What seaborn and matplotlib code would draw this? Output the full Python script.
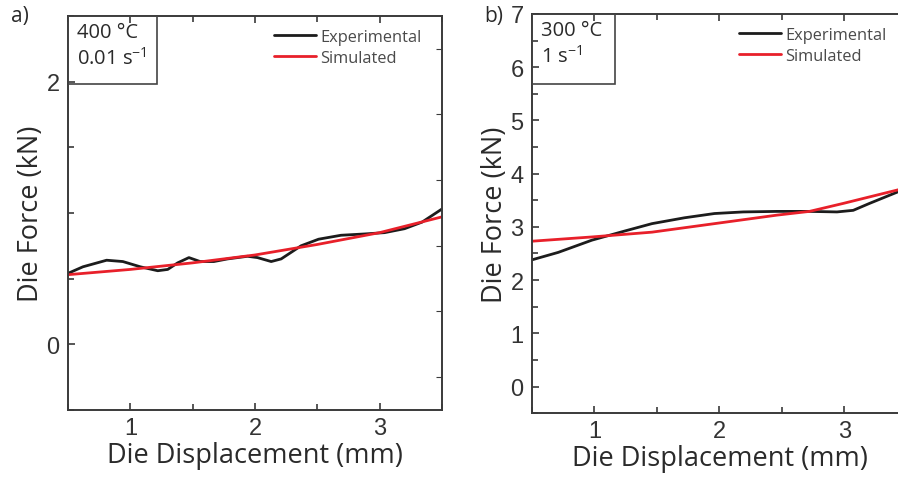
import numpy as np
import pandas as pd
import seaborn as sns
import matplotlib.pyplot as plt
from matplotlib.patches import Rectangle
from matplotlib.ticker import MultipleLocator

# panel a) 400 C, 0.01 s-1
a_exp_x = [0.50, 0.62, 0.81, 0.94, 1.08, 1.22, 1.30, 1.38, 1.47, 1.56, 1.67, 1.78, 1.94, 2.02,
           2.13, 2.21, 2.37, 2.51, 2.69, 2.88, 3.04, 3.20, 3.34, 3.50]
a_exp_y = [0.54, 0.59, 0.64, 0.63, 0.59, 0.56, 0.57, 0.62, 0.66, 0.63, 0.63, 0.65, 0.67, 0.66,
           0.63, 0.65, 0.75, 0.80, 0.83, 0.84, 0.85, 0.88, 0.93, 1.03]
a_sim_x = [0.5, 1.0, 1.5, 2.0, 2.5, 3.0, 3.5]
a_sim_y = [0.53, 0.57, 0.62, 0.68, 0.76, 0.85, 0.97]

# panel b) 300 C, 1 s-1
b_exp_x = [0.50, 0.71, 0.98, 1.24, 1.46, 1.72, 1.96, 2.19, 2.46, 2.72, 2.94, 3.07, 3.20, 3.42, 3.50]
b_exp_y = [2.38, 2.52, 2.75, 2.92, 3.06, 3.17, 3.25, 3.28, 3.29, 3.29, 3.28, 3.31, 3.44, 3.65, 3.75]
b_sim_x = [0.50, 0.98, 1.46, 1.96, 2.46, 2.72, 2.99, 3.42, 3.50]
b_sim_y = [2.73, 2.81, 2.90, 3.06, 3.22, 3.29, 3.44, 3.69, 3.74]

def long_df(ex, ey, sx, sy):
    return pd.concat([
        pd.DataFrame({'x': ex, 'y': ey, 'series': 'Experimental'}),
        pd.DataFrame({'x': sx, 'y': sy, 'series': 'Simulated'}),
    ], ignore_index=True)

df_a = long_df(a_exp_x, a_exp_y, a_sim_x, a_sim_y)
df_b = long_df(b_exp_x, b_exp_y, b_sim_x, b_sim_y)

sns.set_style("ticks")
plt.rcParams['font.family'] = ['Open Sans', 'DejaVu Sans']
plt.rcParams['mathtext.fontset'] = 'custom'
plt.rcParams['mathtext.rm'] = 'Open Sans'

pal = {'Experimental': '#1c1c1c', 'Simulated': '#e8202a'}
spine_c = '#3a3a3a'
tick_font = 'Liberation Sans'

fig = plt.figure(figsize=(8.98, 4.81), dpi=100)
ax_a = fig.add_axes([0.0757, 0.1455, 0.4165, 0.8195])
ax_b = fig.add_axes([0.5924, 0.139, 0.4176, 0.830])


def style_axes(ax, ylim):
    ax.set_xlim(0.5, 3.5)
    ax.set_ylim(*ylim)
    for s in ax.spines.values():
        s.set_color(spine_c)
        s.set_linewidth(1.4)
    ax.xaxis.set_major_locator(MultipleLocator(1))
    ax.xaxis.set_minor_locator(MultipleLocator(0.5))
    ax.tick_params(axis='both', which='both', direction='out', color=spine_c, width=1.2)
    ax.tick_params(axis='both', which='major', length=5, labelsize=17, labelcolor='#333333', pad=6)
    ax.tick_params(axis='x', which='major', pad=5)
    ax.tick_params(axis='both', which='minor', length=4)
    ax.tick_params(top=True, which='both', direction='in')
    ax.set_xlabel('Die Displacement (mm)', fontsize=19.5, color='#2a2a2a', labelpad=1.5)
    ax.set_ylabel('Die Force (kN)', fontsize=19.5, color='#2a2a2a', labelpad=1)


for ax, df in [(ax_a, df_a), (ax_b, df_b)]:
    sns.lineplot(data=df, x='x', y='y', hue='series', palette=pal, ax=ax,
                 linewidth=2.0, sort=False, estimator=None)

style_axes(ax_a, (-0.5, 2.5))
ax_a.set_yticks([0, 2])
ax_a.yaxis.set_minor_locator(MultipleLocator(0.5))
ax_a.set_xticks([1, 2, 3])
tw = ax_a.twinx()
tw.set_ylim(-0.5, 2.5)
tw.set_yticks(np.arange(-0.25, 2.3, 0.5))
tw.tick_params(axis='y', direction='in', length=4, color=spine_c, labelright=False)
for s in tw.spines.values():
    s.set_visible(False)

style_axes(ax_b, (-0.5, 7))
ax_b.set_yticks(range(0, 8))
ax_b.yaxis.set_minor_locator(MultipleLocator(0.5))
ax_b.set_xticks([1, 2, 3])

for ax in (ax_a, ax_b):
    for lab in ax.get_xticklabels() + ax.get_yticklabels():
        lab.set_fontfamily(tick_font)

# condition boxes
for ax, w, h, txt in [(ax_a, 0.238, 0.173, '400 °C\n0.01 s$^{\\mathregular{-1}}$'),
                      (ax_b, 0.221, 0.175, '300 °C\n1 s$^{\\mathregular{-1}}$')]:
    ax.add_patch(Rectangle((0, 1 - h), w, h, transform=ax.transAxes, fill=False,
                           ec='#444444', lw=1.2, zorder=5))
    ax.text(0.025, 0.985, txt, transform=ax.transAxes, ha='left', va='top',
            fontsize=14.5, color='#2a2a2a', linespacing=1.3)

for ax in (ax_a, ax_b):
    leg = ax.legend(loc='upper right', bbox_to_anchor=(0.985, 1.005), frameon=False,
                    fontsize=11.8, handlelength=2.6, handletextpad=0.25, labelspacing=0.3)
    for t in leg.get_texts():
        t.set_color('#4a4a4a')

fig.text(0.012, 0.955, 'a)', fontsize=15, color='#2a2a2a')
fig.text(0.539, 0.955, 'b)', fontsize=15, color='#2a2a2a')

fig.savefig('out.png', dpi=100)
